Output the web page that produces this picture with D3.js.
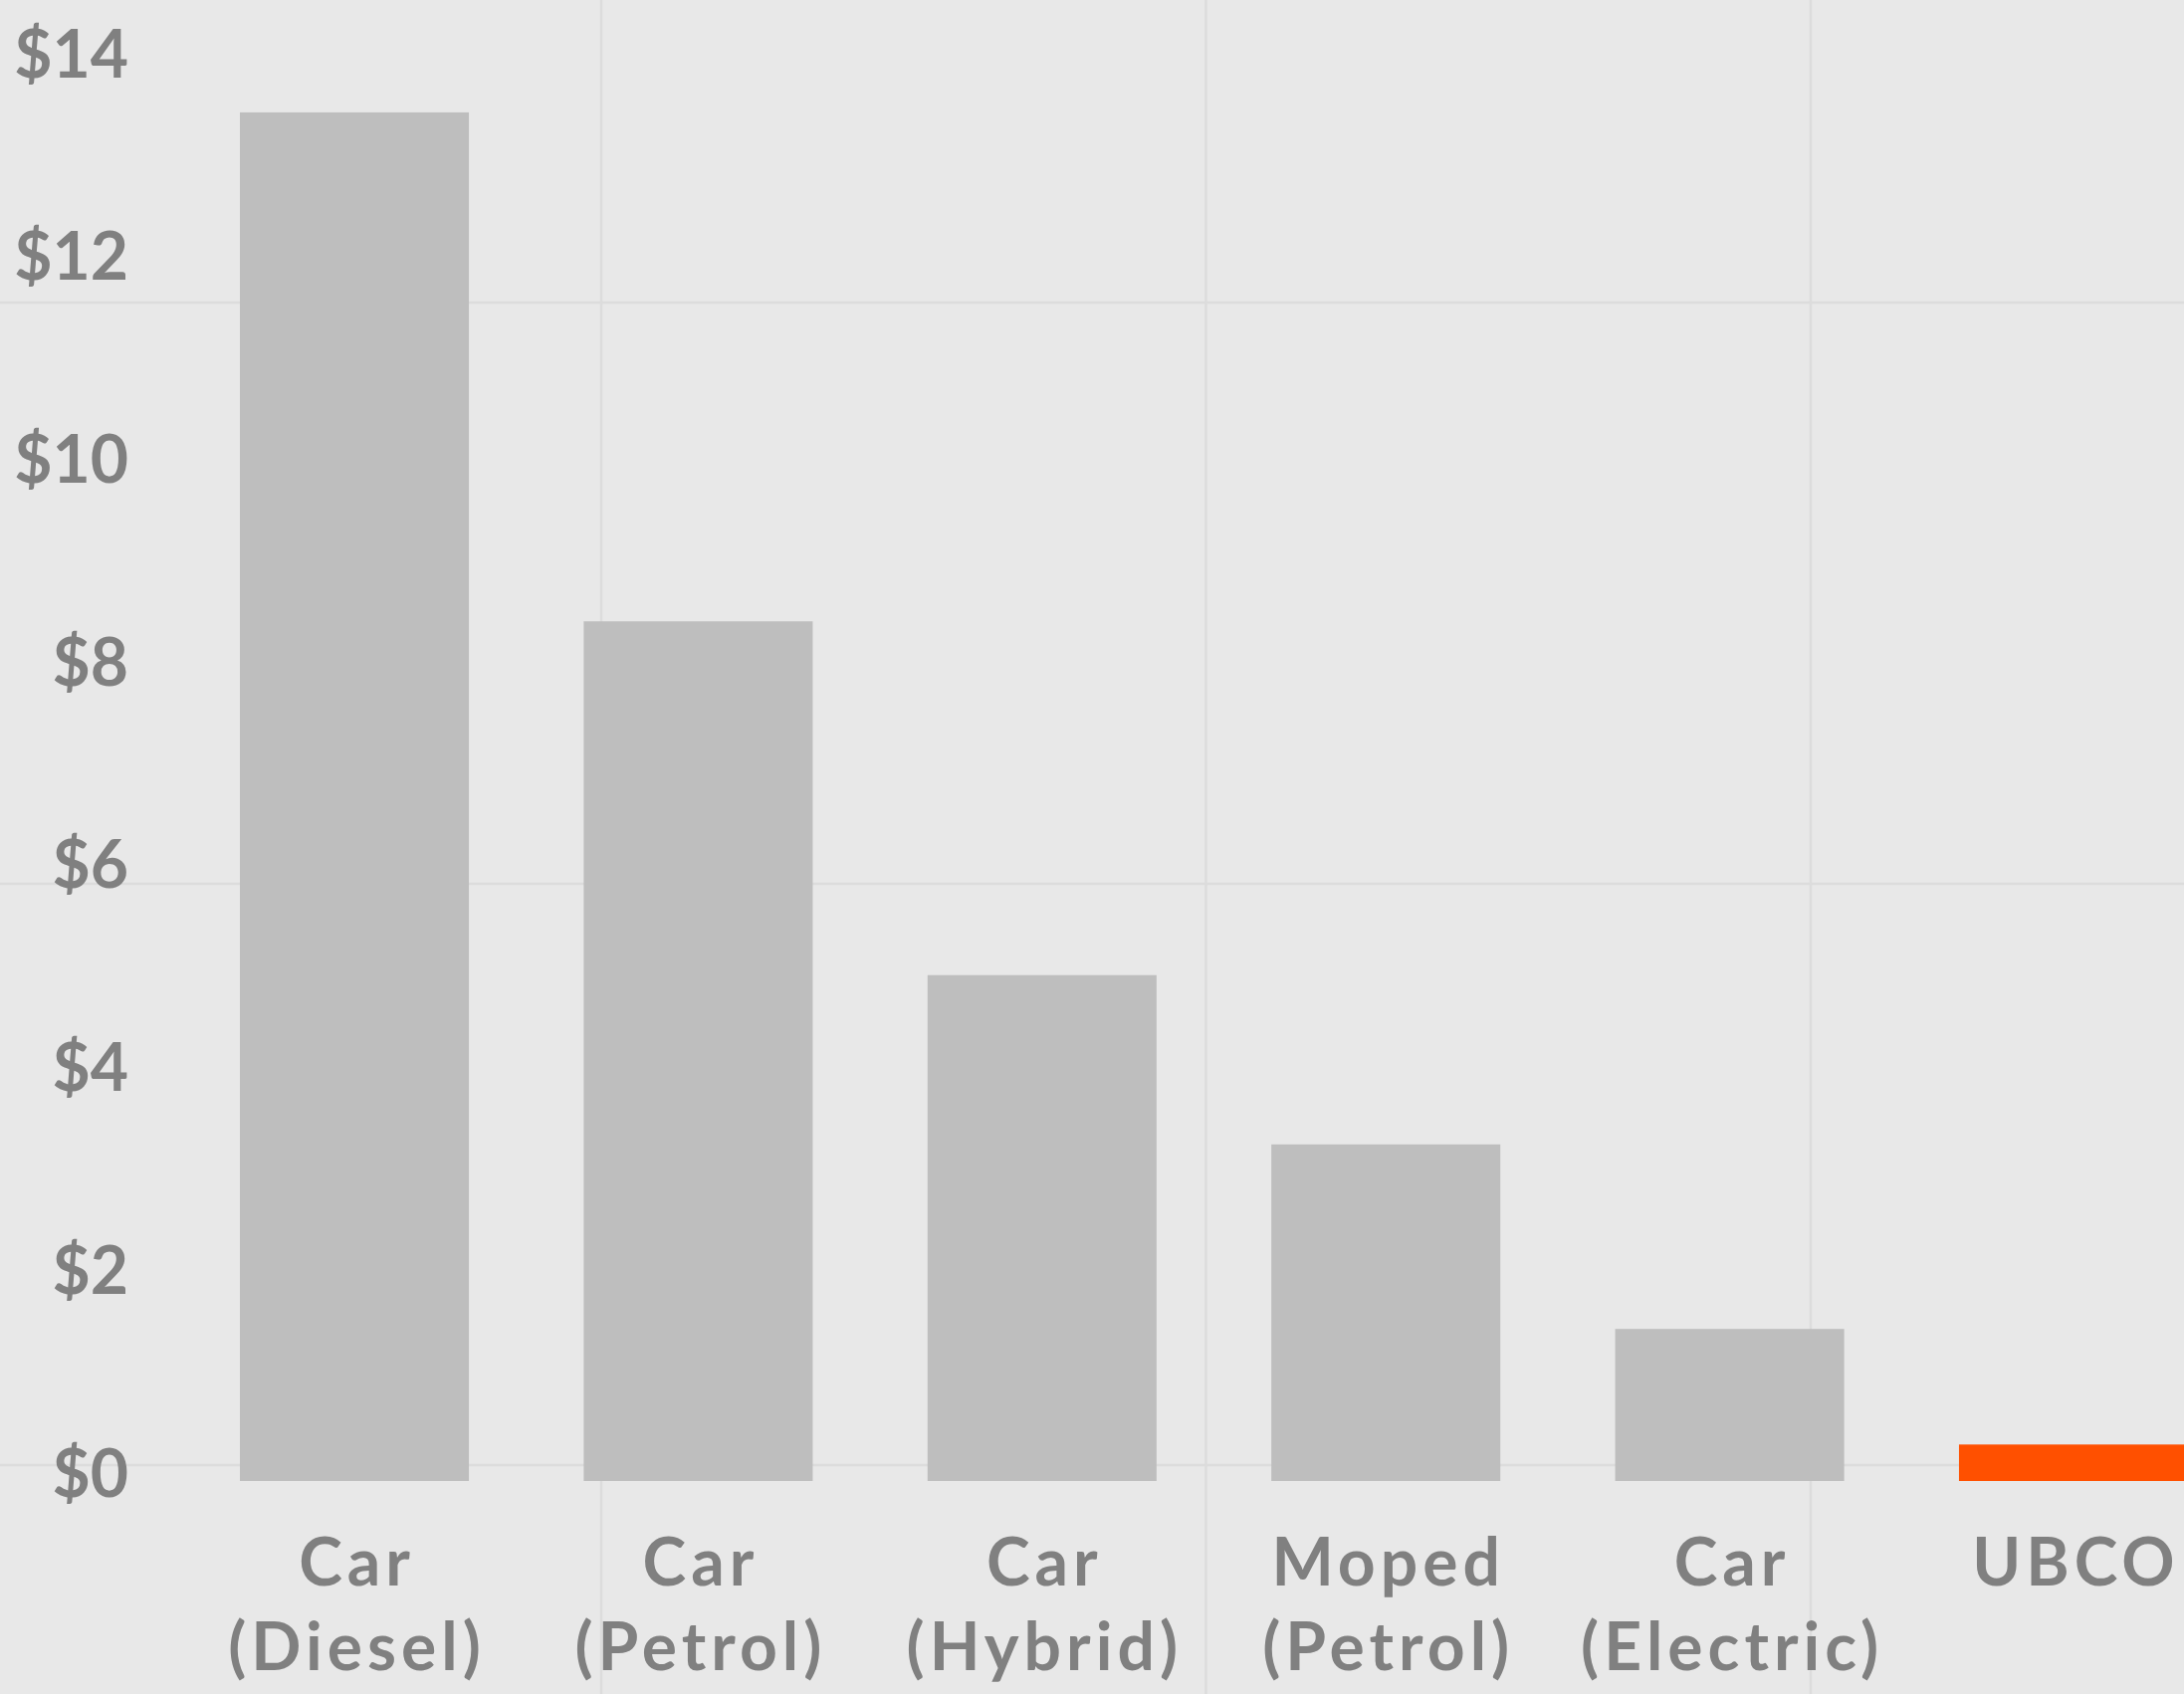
<!DOCTYPE html>
<head>
  <meta charset="utf-8">
  <title>Running cost comparison</title>
  <script src="https://d3js.org/d3.v7.min.js"></script>
  <style>
    body { margin: 0; background: #e8e8e8; }
    svg { display: block; }
    .label { font-family: Lato, "Open Sans", sans-serif; font-weight: 700; fill: #808080; }
  </style>
</head>
<body>
  <svg id="main-svg"></svg>

  <script type="text/javascript">
    // data
    var categories = ["Car (Diesel)", "Car (Petrol)", "Car (Hybrid)", "Moped (Petrol)", "Car (Electric)", "UBCO"];
    var labelLines = [["Car", "(Diesel)"], ["Car", "(Petrol)"], ["Car", "(Hybrid)"], ["Moped", "(Petrol)"], ["Car", "(Electric)"], ["UBCO"]];
    var costs = [13.5, 8.48, 4.99, 3.32, 1.5, 0.36];
    var highlight = ["UBCO"];
    var yTicks = [0, 2, 4, 6, 8, 10, 12, 14];

    const svg_width = 2194;
    const svg_height = 1702;

    var svg = d3.select("#main-svg")
      .attr("width", svg_width)
      .attr("height", svg_height);

    var x = d3.scaleBand()
      .domain(categories)
      .range([241, 2198])
      .paddingInner(0.334)
      .paddingOuter(0);

    var y = d3.scaleLinear()
      .domain([0, 14])
      .range([1488, 62]);

    // background grid (fixed cell size, independent of the data)
    var gx = d3.scaleLinear().domain([0, 1]).range([-3.5, 604]);
    var gy = d3.scaleLinear().domain([0, 1]).range([304, 888]);

    var grid = svg.append("g").attr("class", "grid");
    grid.selectAll(".vline")
      .data([1, 2, 3])
      .enter().append("line")
      .attr("x1", d => gx(d)).attr("x2", d => gx(d))
      .attr("y1", 0).attr("y2", svg_height)
      .attr("stroke", "#dcdcdc")
      .attr("stroke-width", 2.5);
    grid.selectAll(".hline")
      .data([0, 1, 2])
      .enter().append("line")
      .attr("x1", 0).attr("x2", svg_width)
      .attr("y1", d => gy(d)).attr("y2", d => gy(d))
      .attr("stroke", "#dcdcdc")
      .attr("stroke-width", 2.5);

    // bars
    svg.append("g").selectAll("rect")
      .data(categories)
      .enter().append("rect")
      .attr("x", d => x(d))
      .attr("width", x.bandwidth())
      .attr("y", (d, i) => y(costs[i]))
      .attr("height", (d, i) => y(0) - y(costs[i]))
      .attr("fill", d => highlight.includes(d) ? "#ff5000" : "#bebebe");

    // y axis labels
    var yAxis = d3.axisLeft(y)
      .tickValues(yTicks)
      .tickSize(0)
      .tickPadding(0)
      .tickFormat(d => "$" + d);

    var gy_axis = svg.append("g")
      .attr("transform", "translate(129,0)")
      .call(yAxis);
    gy_axis.select(".domain").remove();
    gy_axis.selectAll("text")
      .attr("class", "label")
      .attr("fill", null)
      .attr("font-family", null)
      .attr("font-size", null)
      .attr("dy", "15px")
      .style("font-size", "66px");

    // x axis labels
    var xl = svg.append("g").selectAll("text")
      .data(categories)
      .enter().append("text")
      .attr("class", "label")
      .attr("text-anchor", "middle")
      .style("font-size", "66px")
      .style("letter-spacing", "5px");

    xl.each(function(d, i) {
      var t = d3.select(this);
      var cx = x(d) + x.bandwidth() / 2 + 2.5;
      labelLines[i].forEach(function(line, j) {
        t.append("tspan")
          .attr("x", cx)
          .attr("y", 1593 + j * 85)
          .text(line);
      });
    });
  </script>
</body>
